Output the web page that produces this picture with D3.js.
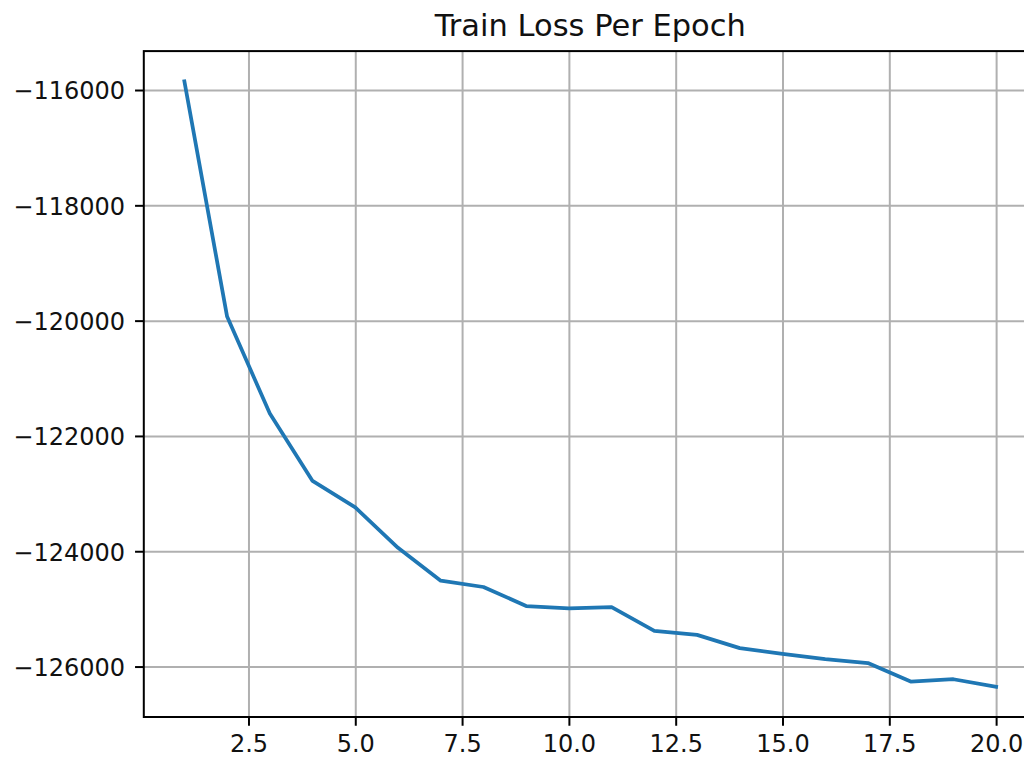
<!DOCTYPE html>
<html>
<head>
<meta charset="utf-8">
<script src="https://cdn.jsdelivr.net/npm/d3@7"></script>
<style>
  html, body { margin: 0; padding: 0; background: #fff; }
  svg { display: block; font-family: "DejaVu Sans", sans-serif; }
</style>
</head>
<body>
<svg id="chart" width="1024" height="760"></svg>
<script>
// Training loss recorded at the end of each epoch
const epochs = [1, 2, 3, 4, 5, 6, 7, 8, 9, 10, 11, 12, 13, 14, 15, 16, 17, 18, 19, 20];
const trainLoss = [
  -115850, -119930, -121610, -122780, -123240,
  -123940, -124510, -124620, -124950, -124990,
  -124970, -125380, -125450, -125680, -125780,
  -125870, -125940, -126260, -126220, -126350
];
const xTicks = [2.5, 5.0, 7.5, 10.0, 12.5, 15.0, 17.5, 20.0];
const yTicks = [-126000, -124000, -122000, -120000, -118000, -116000];
const title = "Train Loss Per Epoch";

// Plot area (right edge runs past the canvas)
const area = { left: 143.8, top: 51.1, right: 1036.7, bottom: 717 };

// 5% padding on each side of the data extent
function padded(values) {
  const [lo, hi] = d3.extent(values);
  const m = (hi - lo) * 0.05;
  return [lo - m, hi + m];
}

const x = d3.scaleLinear().domain(padded(epochs)).range([area.left, area.right]);
const y = d3.scaleLinear().domain(padded(trainLoss)).range([area.bottom, area.top]);

const svg = d3.select("#chart");
const tickPx = 8.75;
const gridColor = "#b0b0b0";
const textColor = "#111";

// Grid
const grid = svg.append("g");
grid.append("g")
  .attr("transform", `translate(0,${area.bottom})`)
  .call(d3.axisBottom(x).tickValues(xTicks).tickSize(-(area.bottom - area.top)).tickFormat(""))
  .call(g => g.select(".domain").remove())
  .call(g => g.selectAll("line").attr("stroke", gridColor).attr("stroke-width", 2));
grid.append("g")
  .attr("transform", `translate(${area.left},0)`)
  .call(d3.axisLeft(y).tickValues(yTicks).tickSize(-(area.right - area.left)).tickFormat(""))
  .call(g => g.select(".domain").remove())
  .call(g => g.selectAll("line").attr("stroke", gridColor).attr("stroke-width", 2));

// Loss line
const line = d3.line()
  .x((d, i) => x(epochs[i]))
  .y(d => y(d));
svg.append("path")
  .datum(trainLoss)
  .attr("d", line)
  .attr("fill", "none")
  .attr("stroke", "#1f77b4")
  .attr("stroke-width", 3.75)
  .attr("stroke-linecap", "square")
  .attr("stroke-linejoin", "round");

// Axes with outward ticks
const xAxis = svg.append("g")
  .attr("transform", `translate(0,${area.bottom})`)
  .call(d3.axisBottom(x).tickValues(xTicks).tickSize(tickPx).tickPadding(9).tickFormat(d3.format(".1f")));
xAxis.select(".domain").remove();
xAxis.selectAll("line").attr("stroke", "#000").attr("stroke-width", 2);
xAxis.selectAll("text")
  .attr("font-size", 24).attr("fill", textColor)
  .attr("font-family", "DejaVu Sans").attr("dy", "0.73em");

const yAxis = svg.append("g")
  .attr("transform", `translate(${area.left},0)`)
  .call(d3.axisLeft(y).tickValues(yTicks).tickSize(tickPx).tickPadding(10).tickFormat(d3.format("d")));
yAxis.select(".domain").remove();
yAxis.selectAll("line").attr("stroke", "#000").attr("stroke-width", 2);
yAxis.selectAll("text")
  .attr("font-size", 24).attr("fill", textColor)
  .attr("font-family", "DejaVu Sans").attr("dy", "0.37em");

// Spines
svg.append("rect")
  .attr("x", area.left).attr("y", area.top)
  .attr("width", area.right - area.left).attr("height", area.bottom - area.top)
  .attr("fill", "none").attr("stroke", "#000").attr("stroke-width", 2);

// Title
svg.append("text")
  .attr("x", (area.left + area.right) / 2)
  .attr("y", 36)
  .attr("text-anchor", "middle")
  .attr("font-size", 30.5)
  .attr("fill", textColor)
  .text(title);
</script>
</body>
</html>
